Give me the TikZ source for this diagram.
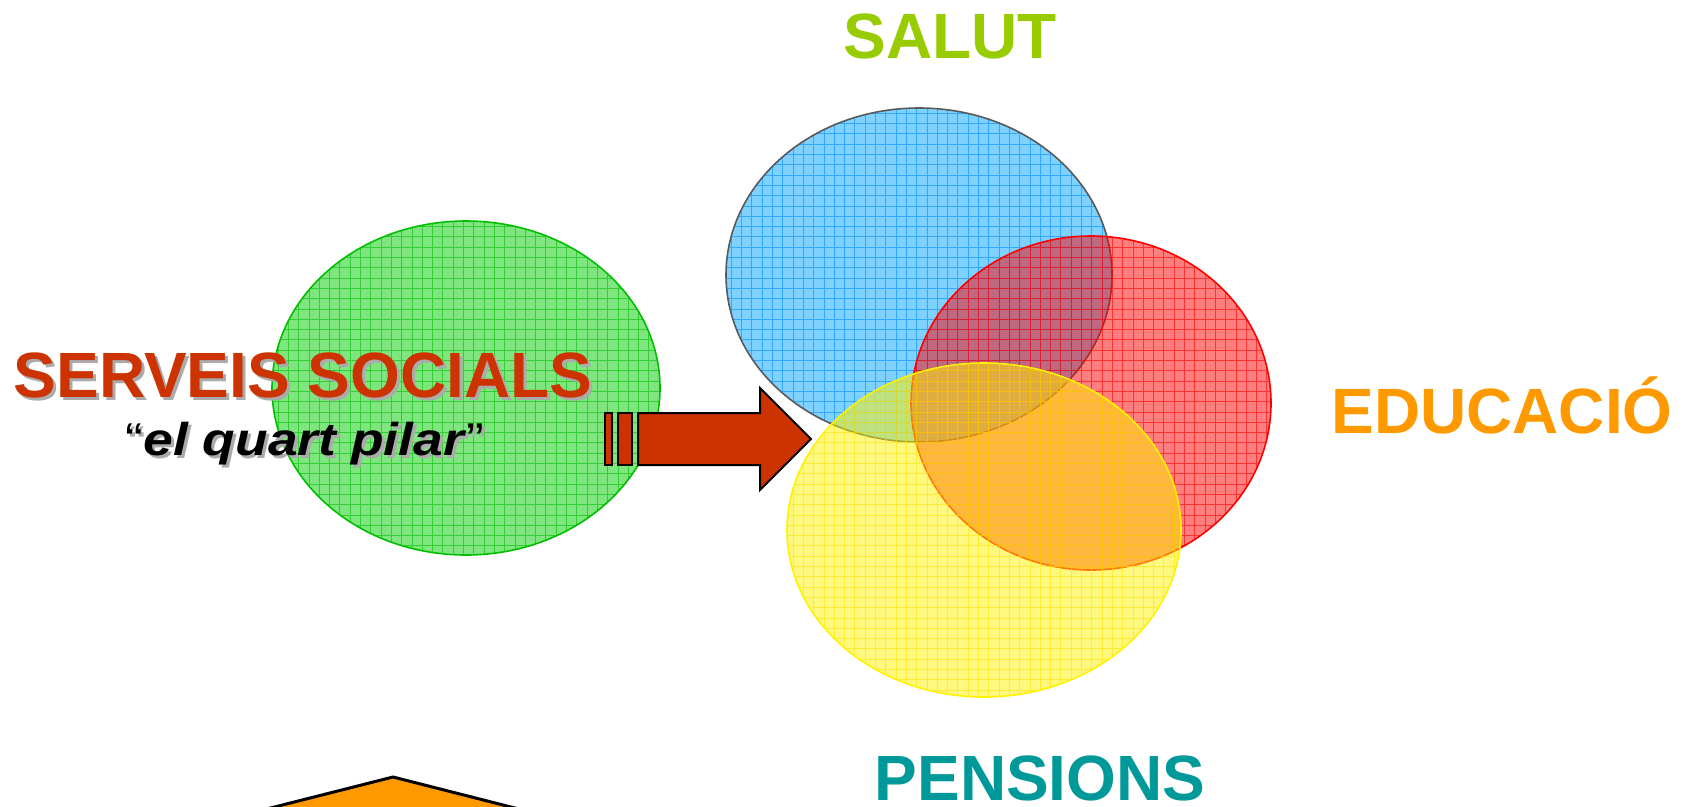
\documentclass[tikz,border=0pt]{standalone}
\usepackage{fontspec}
\usepackage{graphicx}
\setmainfont{Liberation Sans}
\usetikzlibrary{calc}
\definecolor{verdsalut}{HTML}{99CC00}
\definecolor{taronja}{HTML}{FF9900}
\definecolor{blaverd}{HTML}{009999}
\definecolor{vermell}{HTML}{CC3300}
\definecolor{ombra}{HTML}{ABABAB}
% ellipse with grid: centre, rx, ry, fill, grid, border
\newcommand\globus[6]{%
\fill[#4, fill opacity=.5] #1 ellipse (#2pt and #3pt);
\begin{scope}
\clip #1 ellipse (#2pt and #3pt);
\draw[#5, opacity=.6, line width=1pt, step=10.3pt] ($#1-(#2,#3)$) grid ($#1+(#2,#3)$);
\end{scope}
\draw[#6, line width=1.6pt] #1 ellipse (#2pt and #3pt);}
\newcommand\lematext{\scalebox{1.16}[1]{“\textbf{\textit{el quart pilar}}”}}
\begin{document}
\begin{tikzpicture}[x=1pt, y=-1pt,
  titol/.style={font=\fontsize{64}{64}\selectfont\bfseries, anchor=base, inner sep=0pt},
  lema/.style={font=\fontsize{46}{46}\selectfont, anchor=base, inner sep=0pt}]
\useasboundingbox (0,0) rectangle (1686,806);
\clip (0,0) rectangle (1686,806);

\globus{(466,388)}{194}{167}{green!80!black}{green!75!black}{green!75!black}
\globus{(919,275)}{193}{167}{blue!35!cyan}{blue!45!cyan}{black!65}
\globus{(1091,403)}{180}{167}{red}{red}{red}
\globus{(984,530)}{197}{167}{yellow}{yellow!85!orange}{yellow}

\node[titol, verdsalut] (salut) at (950,58) {SALUT};
\node[titol, taronja] (educacio) at (1502,433) {EDUCACIÓ};
\node[titol, blaverd] (pensions) at (1040,800) {PENSIONS};

\node[titol, ombra] at (306,400) {SERVEIS SOCIALS};
\node[titol, vermell] (serveis) at (303,397) {SERVEIS SOCIALS};
\node[lema, ombra] at (308,458) {\lematext};
\node[lema, black] (pilar) at (305,455) {\lematext};

% arrow
\draw[fill=vermell, line width=2pt, line join=miter] (638,413)--(760,413)--(760,388)--(811,439)--(760,490)--(760,465)--(638,465)--cycle;
\draw[fill=vermell, line width=2pt] (605,413) rectangle (612,465);
\draw[fill=vermell, line width=2pt] (618,413) rectangle (632,465);

\draw[fill=taronja, line width=3pt] (160,836)--(393,777)--(625,836)--cycle;
\end{tikzpicture}
\end{document}
